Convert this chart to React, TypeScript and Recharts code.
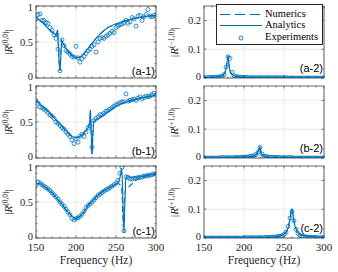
import React from 'react';
import { ComposedChart, Line, Scatter, XAxis, YAxis, CartesianGrid, ReferenceArea } from 'recharts';

const BLUE = '#0072BD';
const INK = '#262626';
const SERIF = 'Liberation Serif, serif';
const SANS = 'Liberation Sans, Arial, sans-serif';

// axis ticks
const freqTicks = [150, 200, 250, 300];
const freqMinor = [160, 170, 180, 190, 210, 220, 230, 240, 260, 270, 280, 290];
const refTicks = [0, 0.5, 1];
const refMinor = [0.1, 0.2, 0.3, 0.4, 0.6, 0.7, 0.8, 0.9];
const sideTicks = [0, 0.1, 0.2];

// measured frequencies (Hz)
const expFreq = [
  150, 152.5, 155, 157.5, 160, 162.5, 165, 167.5, 170, 172.5,
  175, 177.5, 180, 182.5, 185, 187.5, 190, 192.5, 195, 197.5,
  200, 202.5, 205, 207.5, 210, 212.5, 215, 217.5, 220, 222.5,
  225, 227.5, 230, 232.5, 235, 237.5, 240, 242.5, 245, 247.5,
  250, 252.5, 255, 257.5, 260, 262.5, 265, 267.5, 270, 272.5,
  275, 277.5, 280, 282.5, 285, 287.5, 290, 292.5, 295, 297.5,
  300,
];

// (a-1) |R(0,0)|
const freqA1 = [150, 155, 160, 165, 170, 173, 175, 176, 177, 178, 179, 180, 181, 182, 184, 187, 190, 195, 200, 205, 210, 215, 220, 225, 230, 235, 240, 245, 250, 260, 270, 280, 290, 300];
const numA1 = [0.84, 0.8, 0.75, 0.69, 0.64, 0.61, 0.59, 0.62, 0.67, 0.45, 0.2, 0.1, 0.3, 0.52, 0.48, 0.42, 0.37, 0.31, 0.28, 0.29, 0.34, 0.41, 0.48, 0.55, 0.61, 0.66, 0.7, 0.73, 0.75, 0.79, 0.82, 0.84, 0.86, 0.87];
const anaA1 = numA1; // analytics sits on the numerics curve
const expA1 = [
  0.82, 0.88, 0.89, 0.8, 0.8, 0.77, 0.76, 0.7, 0.66, 0.6,
  0.55, 0.4, 0.1, 0.53, 0.45, 0.38, 0.36, 0.33, 0.3, 0.29,
  0.44, 0.28, 0.22, 0.27, 0.3, 0.34, 0.38, 0.4, 0.44, 0.46,
  0.36, 0.5, 0.55, 0.56, 0.55, 0.58, 0.6, 0.62, 0.65, 0.63,
  0.7, 0.72, 0.74, 0.75, 0.77, 0.8, 0.76, 0.78, 0.84, 0.82,
  0.72, 0.86, 0.87, 0.8, 0.85, 0.88, 0.95, 0.86, 0.85, 0.87,
  0.85,
];

// (b-1) |R(0,0)|
const freqB1 = [150, 155, 160, 165, 170, 175, 180, 185, 190, 195, 200, 205, 210, 215, 217, 218, 219, 220, 221, 222, 224, 230, 235, 240, 245, 250, 260, 270, 280, 290, 300];
const numB1 = [0.8, 0.75, 0.7, 0.65, 0.59, 0.53, 0.47, 0.41, 0.35, 0.3, 0.28, 0.3, 0.35, 0.42, 0.48, 0.67, 0.35, 0.05, 0.3, 0.5, 0.52, 0.56, 0.6, 0.64, 0.68, 0.72, 0.77, 0.8, 0.83, 0.85, 0.87];
const anaB1 = numB1;
const expB1 = [
  0.8, 0.76, 0.71, 0.7, 0.68, 0.66, 0.63, 0.6, 0.58, 0.55,
  0.5, 0.48, 0.45, 0.42, 0.4, 0.36, 0.33, 0.3, 0.25, 0.2,
  0.27, 0.22, 0.3, 0.33, 0.3, 0.36, 0.42, 0.45, 0.15, 0.52,
  0.55, 0.57, 0.6, 0.6, 0.62, 0.65, 0.66, 0.68, 0.7, 0.72,
  0.74, 0.75, 0.77, 0.78, 0.78, 0.89, 0.79, 0.8, 0.81, 0.82,
  0.8, 0.83, 0.85, 0.82, 0.84, 0.86, 0.85, 0.86, 0.88, 0.9,
  0.87,
];

// (c-1) |R(0,0)|
const freqC1Num = [150, 155, 160, 170, 180, 190, 195, 200, 205, 210, 215, 220, 225, 230, 235, 240, 245, 250, 253, 255, 257, 258, 259, 260, 261, 262, 265, 270, 275, 280, 290, 300];
const numC1 = [0.75, 0.76, 0.72, 0.63, 0.5, 0.36, 0.3, 0.27, 0.3, 0.36, 0.45, 0.51, 0.57, 0.62, 0.66, 0.69, 0.72, 0.75, 0.76, 0.74, 0.7, 0.5, 0.15, 0.3, 0.6, 0.68, 0.7, 0.75, 0.8, 0.84, 0.87, 0.89];
const freqC1Ana = [150, 155, 160, 170, 180, 190, 195, 200, 205, 210, 215, 220, 225, 230, 235, 240, 245, 250, 253, 255, 256, 257, 258, 259, 260, 261, 262, 264, 267, 270, 280, 290, 300];
const anaC1 = [0.75, 0.76, 0.72, 0.63, 0.5, 0.36, 0.3, 0.27, 0.3, 0.36, 0.45, 0.51, 0.57, 0.62, 0.66, 0.69, 0.72, 0.75, 0.78, 0.84, 0.9, 0.97, 0.8, 0.35, 0.07, 0.45, 0.8, 0.87, 0.85, 0.84, 0.85, 0.87, 0.89];
const expC1 = [
  0.74, 0.78, 0.76, 0.74, 0.72, 0.7, 0.68, 0.66, 0.63, 0.6,
  0.57, 0.54, 0.5, 0.47, 0.44, 0.4, 0.36, 0.32, 0.27, 0.25,
  0.27, 0.28, 0.3, 0.33, 0.37, 0.42, 0.45, 0.47, 0.5, 0.53,
  0.56, 0.59, 0.61, 0.63, 0.65, 0.67, 0.68, 0.7, 0.72, 0.74,
  0.76, 0.8, 0.9, 0.98, 0.1, 0.85, 0.84, 0.82, 0.82, 0.83,
  0.83, 0.84, 0.84, 0.85, 0.86, 0.86, 0.87, 0.87, 0.88, 0.89,
  0.89,
];

// (a-2) |R(-1,0)|
const freqA2 = [150, 160, 165, 170, 173, 175, 177, 178, 179, 180, 181, 182, 184, 187, 190, 195, 200, 220, 250, 300];
const numA2 = [0.001, 0.002, 0.003, 0.005, 0.008, 0.013, 0.025, 0.04, 0.06, 0.077, 0.05, 0.03, 0.015, 0.008, 0.005, 0.003, 0.002, 0.001, 0.001, 0];
const anaA2 = numA2;
const expA2 = [
  0.001, 0.001, 0.001, 0.002, 0.002, 0.002, 0.003, 0.003, 0.004, 0.006,
  0.012, 0.038, 0.074, 0.068, 0.02, 0.008, 0.005, 0.004, 0.003, 0.002,
  0.002, 0.002, 0.001, 0.001, 0.001, 0.001, 0.001, 0.001, 0.001, 0.001,
  0.001, 0.001, 0.001, 0.001, 0.001, 0.001, 0.001, 0.001, 0.001, 0.001,
  0.001, 0.001, 0, 0, 0, 0, 0, 0, 0, 0,
  0, 0, 0, 0, 0, 0, 0, 0, 0, 0,
  0,
];

// (b-2) |R(+1,0)|
const freqB2 = [150, 180, 200, 210, 214, 216, 218, 219, 220, 221, 222, 224, 227, 230, 240, 260, 300];
const numB2 = [0, 0.001, 0.003, 0.005, 0.008, 0.013, 0.024, 0.033, 0.039, 0.025, 0.014, 0.008, 0.005, 0.003, 0.002, 0.001, 0];
const anaB2 = numB2;
const expB2 = [
  0, 0, 0, 0, 0, 0, 0, 0, 0.001, 0.001,
  0.001, 0.001, 0.001, 0.001, 0.001, 0.001, 0.002, 0.002, 0.002, 0.003,
  0.003, 0.003, 0.004, 0.005, 0.006, 0.008, 0.012, 0.02, 0.036, 0.014,
  0.007, 0.005, 0.004, 0.003, 0.003, 0.002, 0.002, 0.002, 0.001, 0.001,
  0.001, 0.001, 0.001, 0.001, 0.001, 0, 0, 0, 0, 0,
  0, 0, 0, 0, 0, 0, 0, 0, 0, 0,
  0,
];

// (c-2) |R(+1,0)|
const freqC2 = [150, 200, 230, 240, 245, 250, 253, 255, 257, 258, 259, 260, 261, 262, 264, 267, 270, 280, 290, 300];
const numC2 = [0, 0.001, 0.002, 0.004, 0.007, 0.013, 0.022, 0.035, 0.058, 0.075, 0.092, 0.1, 0.088, 0.065, 0.038, 0.02, 0.012, 0.005, 0.003, 0.002];
const anaC2 = numC2;
const expC2 = [
  0, 0, 0, 0, 0, 0, 0, 0, 0, 0,
  0, 0, 0, 0, 0, 0, 0, 0, 0, 0,
  0.001, 0.001, 0.001, 0.001, 0.001, 0.001, 0.001, 0.001, 0.001, 0.001,
  0.001, 0.002, 0.002, 0.002, 0.003, 0.003, 0.004, 0.005, 0.006, 0.008,
  0.012, 0.02, 0.04, 0.07, 0.092, 0.06, 0.03, 0.016, 0.009, 0.006,
  0.005, 0.004, 0.003, 0.003, 0.002, 0.002, 0.002, 0.001, 0.001, 0.001,
  0.001,
];

type Pt = { f: number; v: number };
const zip = (fs: number[], vs: number[]): Pt[] => fs.map((f, i) => ({ f, v: vs[i] }));

const PLOT_TOP = [6, 86, 166];
const PLOT_H = 72;
const PLOT_W = 120;
const Y_W = 36;
const COL_W = 168;
const TOP_PAD = 10;

const circle = (p: any) => (
  <circle cx={p.cx} cy={p.cy} r={2} fill="none" stroke={BLUE} strokeWidth={0.8} />
);

interface PanelProps {
  col: number;
  row: number;
  num: Pt[];
  ana: Pt[];
  exp: Pt[];
  yMax: number;
  yMajor: number[];
  yMinor: number[];
  sup: string;
}

const Panel = ({ col, row, num, ana, exp, yMax, yMajor, yMinor, sup }: PanelProps) => {
  const bottom = row === 2;
  const xH = bottom ? 30 : 8;
  const h = TOP_PAD + PLOT_H + xH;

  const xTick = (p: any) => {
    const v = p.payload.value;
    const major = freqTicks.includes(v);
    const len = major ? 2.5 : 1.5;
    return (
      <g>
        <line x1={p.x} y1={p.y} x2={p.x} y2={p.y - len} stroke={INK} strokeWidth={0.6} />
        <line x1={p.x} y1={p.y - PLOT_H} x2={p.x} y2={p.y - PLOT_H + len} stroke={INK} strokeWidth={0.6} />
        {bottom && major && (
          <text x={p.x} y={p.y + 13} textAnchor="middle" fontFamily={SERIF} fontSize={11} fill={INK}>{v}</text>
        )}
      </g>
    );
  };

  const yTick = (p: any) => {
    const v = p.payload.value;
    const major = yMajor.includes(v);
    const len = major ? 2.5 : 1.5;
    // keep the end labels of stacked panels apart
    const nudge = v === 0 ? -1.5 : v === yMax || (yMax === 1 && v === 1) ? 1 : 0;
    return (
      <g>
        <line x1={p.x} y1={p.y} x2={p.x + len} y2={p.y} stroke={INK} strokeWidth={0.6} />
        <line x1={p.x + PLOT_W} y1={p.y} x2={p.x + PLOT_W - len} y2={p.y} stroke={INK} strokeWidth={0.6} />
        {major && (
          <text x={p.x - 3} y={p.y + nudge} dy="0.35em" textAnchor="end" fontFamily={SERIF} fontSize={10.5} fill={INK}>{v}</text>
        )}
      </g>
    );
  };

  const yLabel = () => (
    <text transform={`translate(${col === 0 ? 8 : 6},${TOP_PAD + PLOT_H / 2}) rotate(-90)`} textAnchor="middle" dy="0.35em" fontFamily={SERIF} fontSize={11} fill={INK}>
      <tspan>|</tspan>
      <tspan fontStyle="italic">R</tspan>
      <tspan fontSize={7.5} dy={-4}>{sup}</tspan>
      <tspan dy={4}>|</tspan>
    </text>
  );

  const xLabel = () => (
    <text x={Y_W + PLOT_W / 2} y={TOP_PAD + PLOT_H + 25.5} textAnchor="middle" fontFamily={SERIF} fontSize={11.5} fill={INK}>
      Frequency (Hz)
    </text>
  );

  return (
    <div style={{ position: 'absolute', left: col * COL_W, top: PLOT_TOP[row] - TOP_PAD }}>
      <ComposedChart width={COL_W} height={h} margin={{ top: TOP_PAD, right: 12, bottom: 0, left: 0 }}>
        <CartesianGrid stroke="#e2e2e2" strokeWidth={0.7} verticalValues={freqTicks} horizontalValues={yMajor} />
        <XAxis
          dataKey="f"
          type="number"
          domain={[150, 300]}
          allowDataOverflow
          ticks={[...freqTicks, ...freqMinor]}
          interval={0}
          height={xH}
          axisLine={false}
          tickLine={false}
          tickSize={0}
          tickMargin={0}
          tick={xTick}
          label={bottom ? xLabel : undefined}
        />
        <YAxis
          dataKey="v"
          type="number"
          domain={[0, yMax]}
          allowDataOverflow
          ticks={[...yMajor, ...yMinor]}
          interval={0}
          width={Y_W}
          axisLine={false}
          tickLine={false}
          tickSize={0}
          tickMargin={0}
          tick={yTick}
          label={yLabel}
        />
        <ReferenceArea x1={150} x2={300} y1={0} y2={yMax} fill="none" stroke={INK} strokeWidth={0.7} ifOverflow="visible" />
        <Line data={num} dataKey="v" type="linear" stroke={BLUE} strokeWidth={1.1} strokeDasharray="6 3" dot={false} activeDot={false} isAnimationActive={false} />
        <Line data={ana} dataKey="v" type="linear" stroke={BLUE} strokeWidth={1.1} dot={false} activeDot={false} isAnimationActive={false} />
        <Scatter data={exp} dataKey="v" shape={circle} isAnimationActive={false} />
      </ComposedChart>
    </div>
  );
};

const Tag = ({ col, row, text }: { col: number; row: number; text: string }) => {
  const right = col * COL_W + Y_W + PLOT_W - 1;
  const base = PLOT_TOP[row] + PLOT_H - (col === 0 ? 3 : 6);
  return (
    <div style={{ position: 'absolute', left: right - 40, width: 40, top: base - 9.5, textAlign: 'right', fontFamily: SANS, fontSize: 11, lineHeight: '11px', color: '#000' }}>
      {text}
    </div>
  );
};

const LegendBox = () => {
  const row = (top: number, sample: React.ReactNode, label: string) => (
    <div style={{ position: 'absolute', left: 0, top, height: 11, width: '100%' }}>
      <svg width={44} height={11} style={{ position: 'absolute', left: 2, top: 0 }}>{sample}</svg>
      <span style={{ position: 'absolute', left: 48, top: -1, lineHeight: '12px', whiteSpace: 'nowrap' }}>{label}</span>
    </div>
  );
  return (
    <div style={{ position: 'absolute', left: 216, top: 4, width: 107, height: 41, boxSizing: 'border-box', border: `0.8px solid ${INK}`, background: '#fff', fontFamily: SERIF, fontSize: 10.5, color: '#000' }}>
      {row(4, <line x1={1} y1={5.5} x2={43} y2={5.5} stroke={BLUE} strokeWidth={1.1} strokeDasharray="10 5" />, 'Numerics')}
      {row(15, <line x1={1} y1={5.5} x2={43} y2={5.5} stroke={BLUE} strokeWidth={1.1} />, 'Analytics')}
      {row(27, <circle cx={22} cy={6} r={2} fill="none" stroke={BLUE} strokeWidth={0.9} />, 'Experiments')}
    </div>
  );
};

export default function App() {
  return (
    <div style={{ position: 'absolute', left: 0, top: 0, width: 338, height: 272, background: '#fff', overflow: 'hidden' }}>
      <Panel col={0} row={0} num={zip(freqA1, numA1)} ana={zip(freqA1, anaA1)} exp={zip(expFreq, expA1)} yMax={1} yMajor={refTicks} yMinor={refMinor} sup="(0,0)" />
      <Panel col={0} row={1} num={zip(freqB1, numB1)} ana={zip(freqB1, anaB1)} exp={zip(expFreq, expB1)} yMax={1} yMajor={refTicks} yMinor={refMinor} sup="(0,0)" />
      <Panel col={0} row={2} num={zip(freqC1Num, numC1)} ana={zip(freqC1Ana, anaC1)} exp={zip(expFreq, expC1)} yMax={1} yMajor={refTicks} yMinor={refMinor} sup="(0,0)" />
      <Panel col={1} row={0} num={zip(freqA2, numA2)} ana={zip(freqA2, anaA2)} exp={zip(expFreq, expA2)} yMax={0.25} yMajor={sideTicks} yMinor={[]} sup="(−1,0)" />
      <Panel col={1} row={1} num={zip(freqB2, numB2)} ana={zip(freqB2, anaB2)} exp={zip(expFreq, expB2)} yMax={0.25} yMajor={sideTicks} yMinor={[]} sup="(+1,0)" />
      <Panel col={1} row={2} num={zip(freqC2, numC2)} ana={zip(freqC2, anaC2)} exp={zip(expFreq, expC2)} yMax={0.25} yMajor={sideTicks} yMinor={[]} sup="(+1,0)" />
      <Tag col={0} row={0} text="(a-1)" />
      <Tag col={0} row={1} text="(b-1)" />
      <Tag col={0} row={2} text="(c-1)" />
      <Tag col={1} row={0} text="(a-2)" />
      <Tag col={1} row={1} text="(b-2)" />
      <Tag col={1} row={2} text="(c-2)" />
      <LegendBox />
    </div>
  );
}
